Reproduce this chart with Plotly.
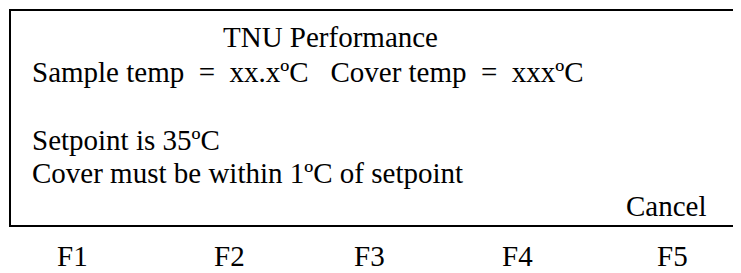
import plotly.graph_objects as go

NB = "\u00a0"
title_text = "TNU Performance"
status_line = f"Sample temp{NB}{NB}={NB}{NB}xx.xºC{NB}{NB}{NB}Cover temp{NB}{NB}={NB}{NB}xxxºC"
info_lines = ["Setpoint is 35ºC", "Cover must be within 1ºC of setpoint"]
action_label = "Cancel"
key_labels = ["F1", "F2", "F3", "F4", "F5"]
key_centers = [72, 229, 369, 517, 672]

# page is 741x273; the html body has an 8px margin, so the figure covers 8..741 / 8..273
PAGE_W, PAGE_H, OFF = 741, 273, 8
FONT = dict(family="Liberation Serif, Times New Roman, serif", size=29, color="#000000")

fig = go.Figure()
fig.update_layout(
    width=PAGE_W - OFF, height=PAGE_H - OFF,
    margin=dict(l=0, r=0, t=0, b=0),
    paper_bgcolor="white", plot_bgcolor="white",
    showlegend=False,
    xaxis=dict(range=[OFF, PAGE_W], visible=False, fixedrange=True),
    yaxis=dict(range=[PAGE_H, OFF], visible=False, fixedrange=True),
)

# screen frame (right edge runs off the picture in the original)
fig.add_shape(type="rect", x0=10, x1=PAGE_W + 10, y0=10, y1=226,
              line=dict(color="black", width=2), fillcolor="rgba(0,0,0,0)")

def baseline_text(txt, x, baseline, xanchor):
    fig.add_annotation(x=x, y=baseline - 0.3375 * FONT["size"], text=txt, showarrow=False,
                       xanchor=xanchor, yanchor="middle", font=FONT,
                       xref="x", yref="y", borderpad=0)

baseline_text(title_text, 330, 47, "center")
baseline_text(status_line, 31, 82, "left")
baseline_text(info_lines[0], 31, 150, "left")
baseline_text(info_lines[1], 31, 183, "left")
baseline_text(action_label, 708, 216, "right")
for lab, cx in zip(key_labels, key_centers):
    baseline_text(lab, cx, 266, "center")

fig.write_html("out.html")
